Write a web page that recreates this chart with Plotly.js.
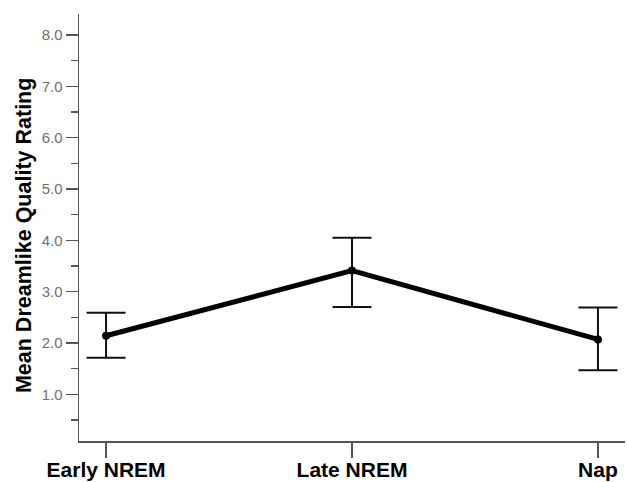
<!DOCTYPE html>
<html>
<head>
<meta charset="utf-8">
<script src="https://cdn.plot.ly/plotly-3.0.1.min.js"></script>
<style>
html,body{margin:0;padding:0;background:#fff;}
#chart{width:627px;height:482px;}
</style>
</head>
<body>
<div id="chart"></div>
<script>
const categories = ['Early NREM', 'Late NREM', 'Nap'];
const meanRating = [2.14, 3.41, 2.07];
const errPlus = [0.45, 0.64, 0.62];
const errMinus = [0.43, 0.71, 0.60];
const yTickVals = [1, 2, 3, 4, 5, 6, 7, 8];
const yTickText = ['1.0', '2.0', '3.0', '4.0', '5.0', '6.0', '7.0', '8.0'];
const yTitle = 'Mean Dreamlike Quality Rating';

const trace = {
  x: categories,
  y: meanRating,
  type: 'scatter',
  mode: 'lines+markers',
  line: {color: '#000', width: 5},
  marker: {color: '#000', size: 8},
  error_y: {
    type: 'data',
    symmetric: false,
    array: errPlus,
    arrayminus: errMinus,
    color: '#111',
    thickness: 2,
    width: 19.5
  },
  hoverinfo: 'skip'
};

const layout = {
  width: 627,
  height: 482,
  margin: {l: 79, r: 2, t: 14, b: 41},
  paper_bgcolor: '#fff',
  plot_bgcolor: '#fff',
  showlegend: false,
  font: {family: '"Liberation Sans", Arial, sans-serif'},
  xaxis: {
    type: 'category',
    range: [-0.11, 2.11],
    showline: true,
    linecolor: '#555',
    linewidth: 1.5,
    showgrid: false,
    zeroline: false,
    ticks: 'outside',
    ticklen: 15,
    tickwidth: 1.5,
    tickcolor: '#555',
    ticklabelstandoff: -6,
    tickfont: {family: '"Liberation Sans", Arial, sans-serif', size: 21, color: '#000', weight: 'bold'},
    automargin: false
  },
  yaxis: {
    range: [0.09, 8.41],
    showline: true,
    linecolor: '#555',
    linewidth: 1.5,
    showgrid: false,
    zeroline: false,
    tickmode: 'array',
    tickvals: yTickVals,
    ticktext: yTickText,
    ticks: 'outside',
    ticklen: 12,
    tickwidth: 1.5,
    tickcolor: '#555',
    tickfont: {family: '"Liberation Sans", Arial, sans-serif', size: 15, color: '#707070'},
    minor: {dtick: 0.5, tick0: 0, ticks: 'outside', ticklen: 7, tickwidth: 1.5, tickcolor: '#555', showgrid: false},
    automargin: false
  },
  annotations: [{
    text: yTitle,
    xref: 'paper', yref: 'paper',
    x: -0.1007, y: 0.48,
    xanchor: 'center', yanchor: 'middle',
    textangle: -90,
    showarrow: false,
    font: {family: '"Liberation Sans", Arial, sans-serif', size: 21.5, color: '#000', weight: 'bold'}
  }]
};

Plotly.newPlot('chart', [trace], layout, {staticPlot: true, displayModeBar: false});
</script>
</body>
</html>
